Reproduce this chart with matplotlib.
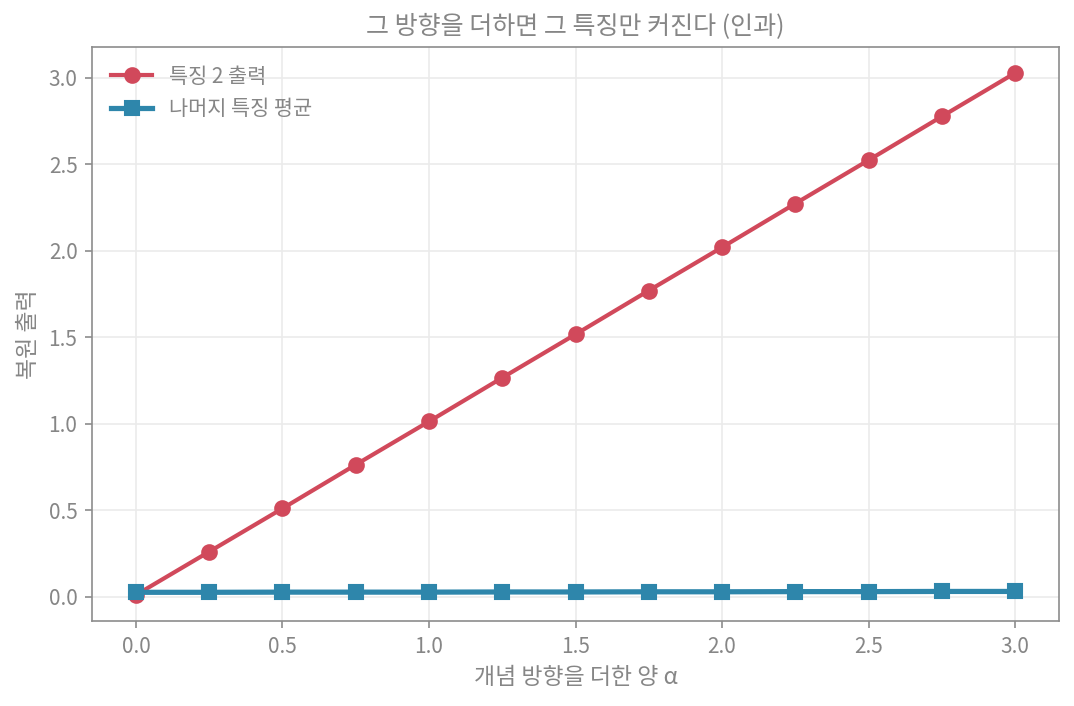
import matplotlib
matplotlib.use('Agg')
import matplotlib.pyplot as plt

plt.rcParams['font.family'] = ['Noto Sans CJK KR', 'DejaVu Sans']
plt.rcParams['axes.unicode_minus'] = False

# data
alpha = [0.0, 0.25, 0.5, 0.75, 1.0, 1.25, 1.5, 1.75, 2.0, 2.25, 2.5, 2.75, 3.0]
feat2 = [0.01, 0.26, 0.51, 0.763, 1.013, 1.266, 1.517, 1.77, 2.02, 2.273, 2.524, 2.777, 3.028]
others = [0.025, 0.025, 0.026, 0.026, 0.026, 0.027, 0.027, 0.028, 0.028, 0.029, 0.029, 0.030, 0.030]

red = '#d1495b'
blue = '#2e86ab'
txt = '#868686'

fig = plt.figure(figsize=(7.16, 4.707), dpi=150)
ax = fig.add_axes([0.0857, 0.1204, 0.9003, 0.813])

ax.plot(alpha, feat2, color=red, marker='o', linewidth=2, markersize=7, label='특징 2 출력')
ax.plot(alpha, others, color=blue, marker='s', linewidth=2.5, markersize=7, label='나머지 특징 평균')

ax.grid(True, color='#ebebeb', linewidth=0.8)
ax.set_axisbelow(True)
for s in ax.spines.values():
    s.set_color('#8c8c8c')
ax.tick_params(colors='#8c8c8c', labelcolor=txt, labelsize=10)

ax.set_title('그 방향을 더하면 그 특징만 커진다 (인과)', color=txt, fontsize=12)
ax.set_xlabel('개념 방향을 더한 양 α', color=txt, fontsize=11)
ax.set_ylabel('복원 출력', color=txt, fontsize=11)

leg = ax.legend(loc='upper left', frameon=False, fontsize=10)
for t in leg.get_texts():
    t.set_color(txt)

fig.savefig('out.png', dpi=150)
